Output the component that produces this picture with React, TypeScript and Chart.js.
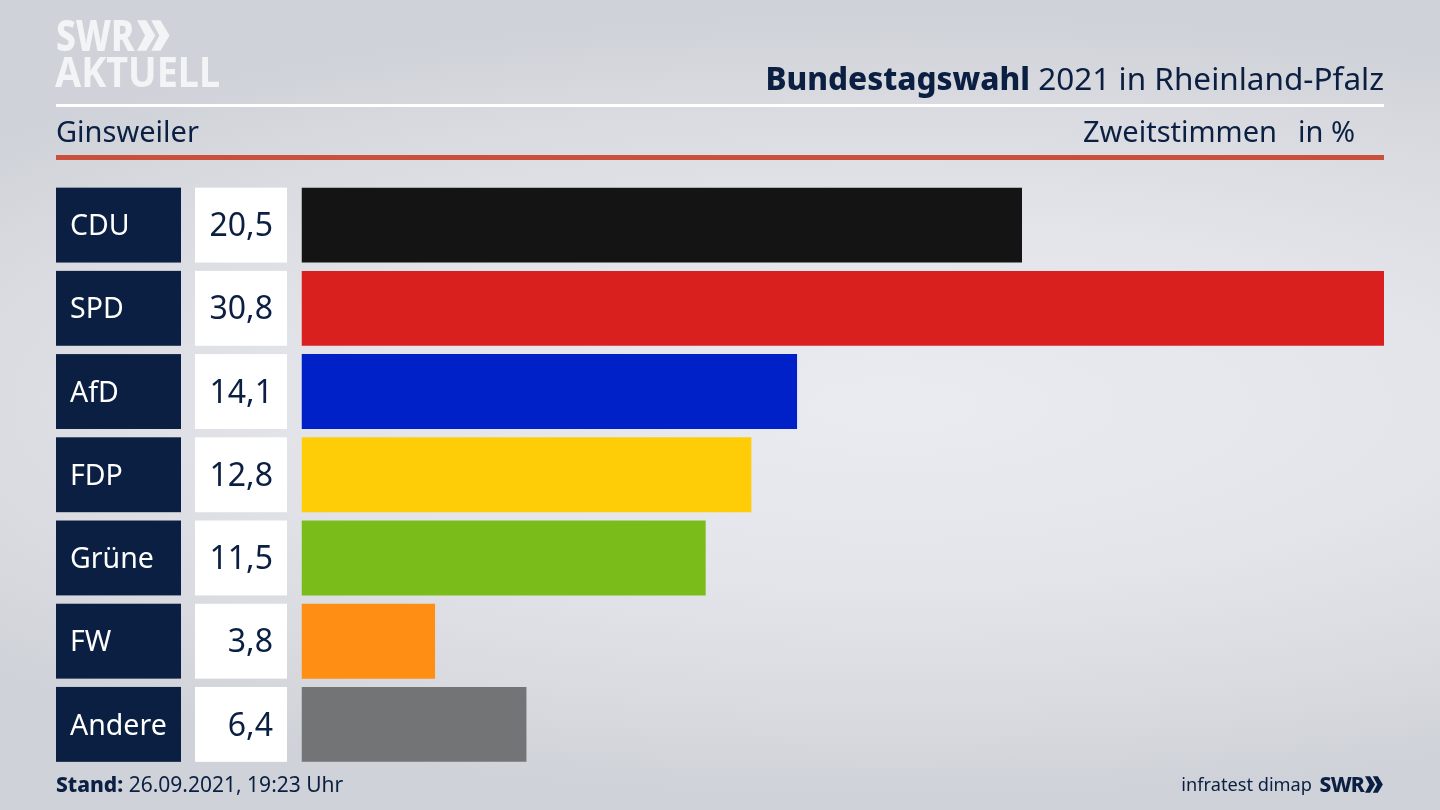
import { useEffect, useRef } from "react";
import { Chart, registerables } from "chart.js";

Chart.register(...registerables);

const parties = ["CDU", "SPD", "AfD", "FDP", "Grüne", "FW", "Andere"];
const shares = [20.5, 30.8, 14.1, 12.8, 11.5, 3.8, 6.4];
const partyColors = ["#141414", "#d9201f", "#0021c7", "#ffcc08", "#7abd1a", "#ff8f14", "#737476"];

const NAVY = "#0a1f41";
const FONT = '"Noto Sans", sans-serif';

const sidePanels = {
    id: "sidePanels",
    beforeDraw(chart: Chart) {
        const { ctx, scales } = chart;
        const bars = chart.getDatasetMeta(0).data as any[];
        ctx.save();
        parties.forEach((_, i) => {
            const mid = scales.y.getPixelForValue(i);
            const h = bars[i].height;
            ctx.fillStyle = NAVY;
            ctx.fillRect(56, mid - h / 2, 125, h);
            ctx.fillStyle = "#ffffff";
            ctx.fillRect(195, mid - h / 2, 92, h);
        });
        ctx.restore();
    },
    afterDraw(chart: Chart) {
        const { ctx, scales } = chart;
        ctx.save();
        ctx.fillStyle = NAVY;
        ctx.font = `32px ${FONT}`;
        ctx.textAlign = "right";
        ctx.textBaseline = "middle";
        shares.forEach((v, i) => {
            ctx.fillText(v.toFixed(1).replace(".", ","), 273, scales.y.getPixelForValue(i) + 2);
        });
        ctx.restore();
    },
};

const text = (left: number | null, right: number | null, top: number, size: number, color = NAVY) => ({
    position: "absolute" as const,
    left: left ?? undefined,
    right: right ?? undefined,
    top,
    fontSize: size,
    lineHeight: 1,
    color,
    whiteSpace: "nowrap" as const,
});

const Chevrons = ({ x, y, h, color }: { x: number; y: number; h: number; color: string }) => (
    <svg
        style={{ position: "absolute", left: x, top: y }}
        width={h * 1.05}
        height={h}
        viewBox="0 0 32 30"
    >
        <polygon points="0,0 9,0 18,15 9,30 0,30 8,15" fill={color} />
        <polygon points="14,0 23,0 32,15 23,30 14,30 22,15" fill={color} />
    </svg>
);

const App = () => {
    const chartRef = useRef<HTMLCanvasElement | null>(null);

    useEffect(() => {
        if (!chartRef.current) return;
        const chart = new Chart(chartRef.current, {
            type: "bar",
            data: {
                labels: parties,
                datasets: [
                    {
                        data: shares,
                        backgroundColor: partyColors,
                        barPercentage: 1,
                        categoryPercentage: 0.9,
                    },
                ],
            },
            options: {
                indexAxis: "y",
                animation: false,
                responsive: false,
                devicePixelRatio: 1,
                layout: { padding: { left: 70, right: 56, top: 183.5, bottom: 44 } },
                plugins: { legend: { display: false }, tooltip: { enabled: false } },
                scales: {
                    x: { display: false, min: 0, max: 30.8 },
                    y: {
                        afterFit: (scale: any) => {
                            scale.width = 231.5;
                        },
                        grid: { display: false },
                        border: { display: false },
                        ticks: {
                            crossAlign: "far",
                            color: "#ffffff",
                            padding: 0,
                            labelOffset: 2,
                            font: { family: FONT, size: 28.5 },
                        },
                    },
                },
            },
            plugins: [sidePanels],
        });
        return () => chart.destroy();
    }, []);

    return (
        <div
            style={{
                position: "fixed",
                left: 0,
                top: 0,
                width: 1440,
                height: 810,
                overflow: "hidden",
                fontFamily: FONT,
                background:
                    "radial-gradient(ellipse 85% 48% at 62% 50%, #eaebf0 0%, #e4e5ea 45%, #d8dadf 80%, #cfd2d8 100%)",
            }}
        >
            <canvas ref={chartRef} width={1440} height={810} style={{ position: "absolute", left: 0, top: 0 }} />

            <div style={{ ...text(56, null, 13, 43, "#f2f4f6"), fontWeight: 800, transform: "scaleX(0.82)", transformOrigin: "left" }}>SWR</div>
            <Chevrons x={137} y={20} h={31} color="#f2f4f6" />
            <div style={{ ...text(55, null, 50, 42, "#f2f4f6"), fontWeight: 700, transform: "scaleX(0.9)", transformOrigin: "left" }}>AKTUELL</div>

            <div style={{ ...text(null, 56, 62, 31.5) }}>
                <b style={{ fontWeight: 800 }}>Bundestagswahl</b> 2021 in Rheinland-Pfalz
            </div>
            <div style={{ position: "absolute", left: 56, top: 104, width: 1328, height: 3, background: "#ffffff" }} />
            <div style={{ ...text(56, null, 116, 29) }}>Ginsweiler</div>
            <div style={{ ...text(null, 163, 116, 29) }}>Zweitstimmen</div>
            <div style={{ ...text(null, 85, 116, 29) }}>in %</div>
            <div style={{ position: "absolute", left: 56, top: 155, width: 1328, height: 5, background: "#c8503c" }} />

            <div style={{ ...text(56, null, 774, 21) }}>
                <b style={{ fontWeight: 800 }}>Stand:</b> 26.09.2021, 19:23 Uhr
            </div>
            <div style={{ ...text(null, 128, 775, 18.2) }}>infratest dimap</div>
            <div style={{ ...text(null, 76, 774, 21), fontWeight: 800, letterSpacing: -0.8 }}>SWR</div>
            <Chevrons x={1365} y={776} h={17} color={NAVY} />
        </div>
    );
};

export default App;
